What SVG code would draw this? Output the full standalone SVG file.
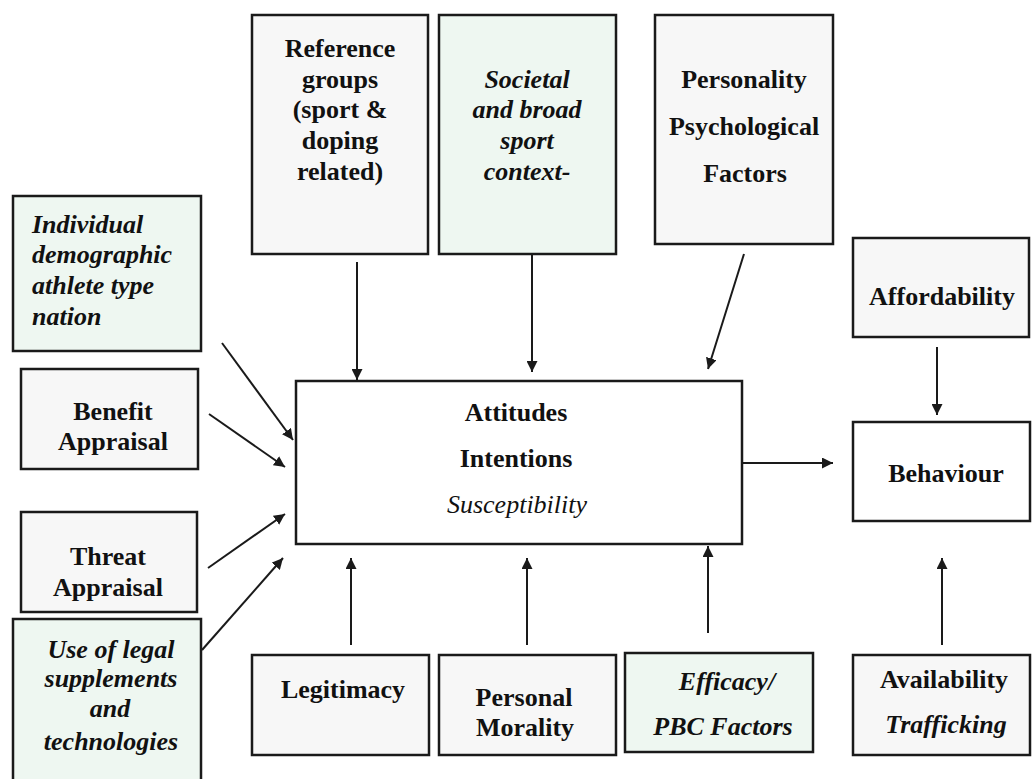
<svg xmlns="http://www.w3.org/2000/svg" width="1032" height="779" viewBox="0 0 1032 779">
<style>
.box{stroke:#1a1a1a;stroke-width:2.5;}
.g{fill:#f7f7f7;}
.gr{fill:#eef7f1;}
.w{fill:#ffffff;}
text{font-family:"Liberation Serif","DejaVu Serif",serif;font-size:26px;font-weight:bold;fill:#111;text-anchor:middle;}
.i{font-style:italic;}
.n{font-weight:normal;}
.l{text-anchor:start;}
.c{stroke:#1a1a1a;stroke-width:2;fill:none;marker-end:url(#ah);}
</style>
<defs>
<marker id="ah" viewBox="0 0 10 10" refX="10" refY="5" markerWidth="5.5" markerHeight="5.5" orient="auto" markerUnits="strokeWidth">
<path d="M0,0 L10,5 L0,10 z" fill="#1a1a1a"/>
</marker>
</defs>
<rect width="1032" height="779" fill="#ffffff"/>
<g id="connectors">
<line class="c" x1="357" y1="262" x2="357" y2="380"/>
<line class="c" x1="532" y1="254" x2="532" y2="372"/>
<line class="c" x1="744" y1="254" x2="708" y2="369"/>
<line class="c" x1="937" y1="347" x2="937" y2="415"/>
<line class="c" x1="222" y1="343" x2="293" y2="440"/>
<line class="c" x1="209" y1="414" x2="285" y2="467"/>
<line class="c" x1="208" y1="568" x2="285" y2="514"/>
<line class="c" x1="202" y1="650" x2="283" y2="558"/>
<line class="c" x1="743" y1="463" x2="833" y2="463"/>
<line class="c" x1="351" y1="645" x2="351" y2="558"/>
<line class="c" x1="527" y1="645" x2="527" y2="558"/>
<line class="c" x1="708" y1="633" x2="708" y2="546"/>
<line class="c" x1="942" y1="645" x2="942" y2="558"/>
</g>
<g id="reference-groups">
<rect class="box g" x="252" y="15" width="176" height="239"/>
<text x="340" y="57">Reference</text>
<text x="340" y="88">groups</text>
<text x="340" y="118">(sport &amp;</text>
<text x="340" y="149">doping</text>
<text x="340" y="180">related)</text>
</g>
<g id="societal">
<rect class="box gr" x="439" y="15" width="177" height="239"/>
<text class="i" x="527" y="88">Societal</text>
<text class="i" x="527" y="118">and broad</text>
<text class="i" x="527" y="149">sport</text>
<text class="i" x="527" y="180">context-</text>
</g>
<g id="personality">
<rect class="box g" x="655" y="15" width="178" height="229"/>
<text x="744" y="88">Personality</text>
<text x="744" y="135">Psychological</text>
<text x="745" y="182">Factors</text>
</g>
<g id="affordability">
<rect class="box g" x="853" y="238" width="176" height="99"/>
<text x="942" y="305">Affordability</text>
</g>
<g id="individual">
<rect class="box gr" x="13" y="196" width="188" height="155"/>
<text class="i l" x="32" y="233">Individual</text>
<text class="i l" x="32" y="263">demographic</text>
<text class="i l" x="32" y="294">athlete type</text>
<text class="i l" x="32" y="325">nation</text>
</g>
<g id="benefit">
<rect class="box g" x="21" y="369" width="177" height="100"/>
<text x="113" y="420">Benefit</text>
<text x="113" y="450">Appraisal</text>
</g>
<g id="threat">
<rect class="box g" x="21" y="512" width="176" height="100"/>
<text x="108" y="565">Threat</text>
<text x="108" y="596">Appraisal</text>
</g>
<g id="legal-supplements">
<rect class="box gr" x="13" y="619" width="188" height="170"/>
<text class="i" x="111" y="658">Use of legal</text>
<text class="i" x="111" y="687">supplements</text>
<text class="i" x="110" y="717">and</text>
<text class="i" x="111" y="750">technologies</text>
</g>
<g id="attitudes">
<rect class="box w" x="296" y="381" width="446" height="163"/>
<text x="516" y="421">Attitudes</text>
<text x="516" y="467">Intentions</text>
<text class="i n" x="517" y="513">Susceptibility</text>
</g>
<g id="behaviour">
<rect class="box w" x="853" y="422" width="177" height="99"/>
<text x="946" y="482">Behaviour</text>
</g>
<g id="legitimacy">
<rect class="box g" x="252" y="655" width="177" height="100"/>
<text x="343" y="698">Legitimacy</text>
</g>
<g id="morality">
<rect class="box g" x="439" y="655" width="177" height="100"/>
<text x="524" y="706">Personal</text>
<text x="525" y="736">Morality</text>
</g>
<g id="efficacy">
<rect class="box gr" x="625" y="653" width="188" height="99"/>
<text class="i" x="727" y="690">Efficacy/</text>
<text class="i" x="723" y="735">PBC  Factors</text>
</g>
<g id="availability">
<rect class="box g" x="853" y="655" width="177" height="100"/>
<text x="944" y="688">Availability</text>
<text class="i" x="946" y="733">Trafficking</text>
</g>
</svg>
